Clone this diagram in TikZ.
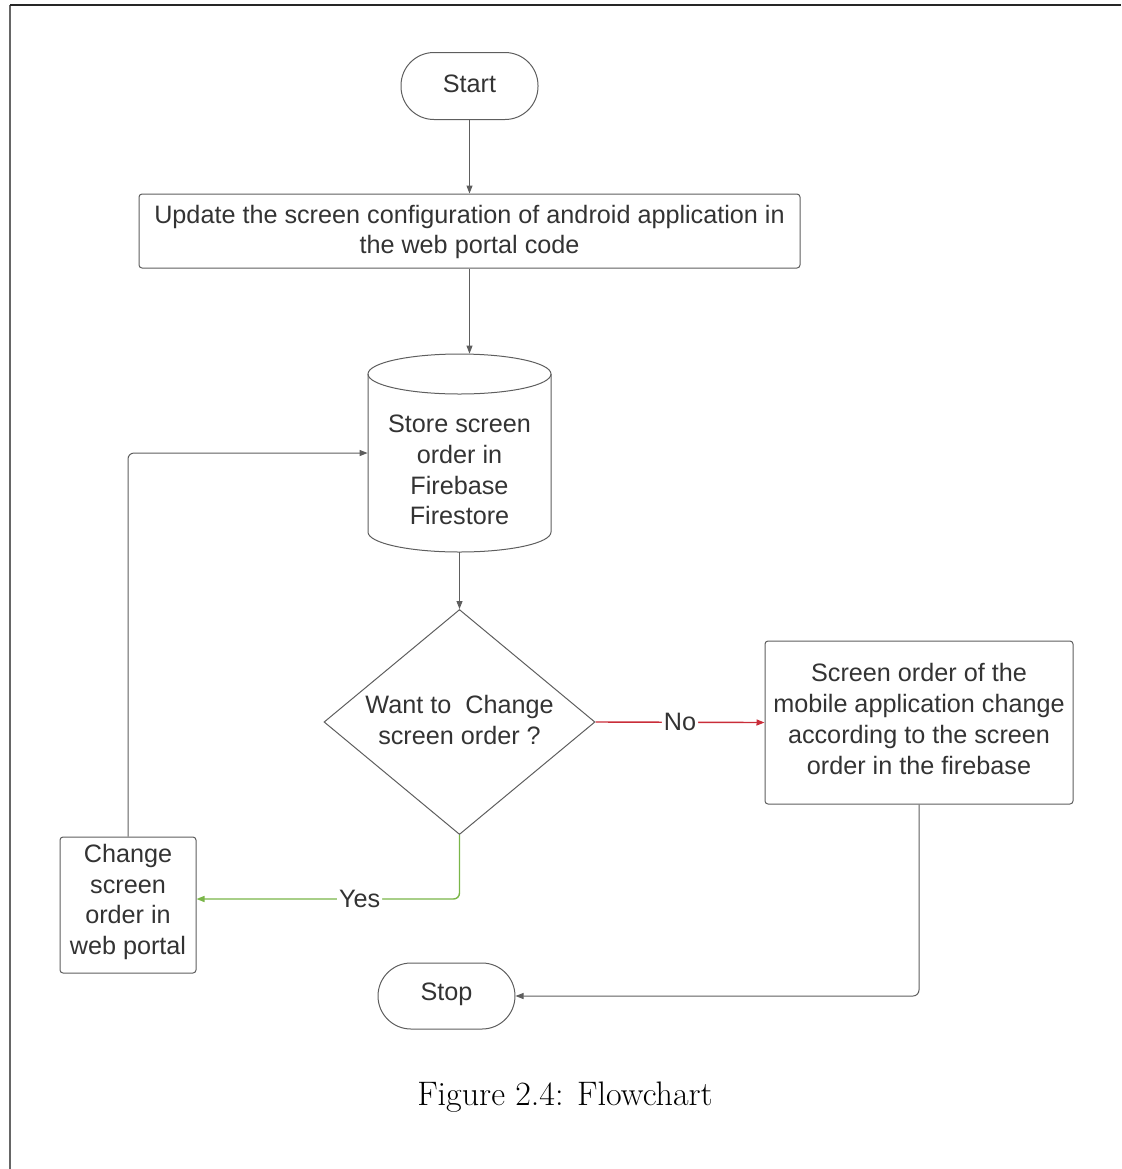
\documentclass[tikz,border=0pt]{standalone}
\usepackage{fontspec}
\newfontfamily\lsans{Liberation Sans}
\usetikzlibrary{arrows.meta,shapes.geometric}
\definecolor{txt}{HTML}{333333}
\definecolor{ln}{HTML}{5E5E5E}
\definecolor{redln}{HTML}{C92D39}
\definecolor{grnln}{HTML}{7AB648}
\begin{document}
\begin{tikzpicture}[x=0.5pt,y=-0.5pt,
  every node/.style={font=\lsans\fontsize{12.6}{15.35}\selectfont, text=txt, align=center, inner sep=0pt},
  box/.style={draw=ln, line width=0.5pt, rounded corners=1.5pt},
  term/.style={draw=ln, line width=0.5pt, rounded corners=16.5pt, minimum width=68.5pt, minimum height=33.5pt},
  conn/.style={draw=ln, line width=0.5pt, -{Triangle[length=4pt,width=3pt]}, rounded corners=3pt},
  lbl/.style={fill=white, inner sep=1pt}
]
\useasboundingbox (0,0) rectangle (1121,1169);
% frame
\draw[line width=1pt, black!60] (10,1169) -- (10,5);
\draw[line width=1pt, black!85] (10,5) -- (1121,5);

\node[term] (start) at (469.5,86) {};
\node (starttext) at (469.5,84) {Start};
\node[box, minimum width=330.5pt, minimum height=37pt] (proc) at (469.5,231) {};
\node (proctext) at (469.5,232)
  {Update the screen configuration of android application in\\the web portal code};

% cylinder
\node[minimum width=91.5pt, minimum height=99pt] (cyl) at (459.5,453) {};
\draw[ln, line width=0.5pt] (459.5,374) ellipse [x radius=45.75pt, y radius=10pt];
\draw[ln, line width=0.5pt] (368,374) -- (368,532)
  arc[start angle=180, end angle=360, x radius=45.75pt, y radius=10pt] -- (551,374);
\node (cyltext) at (459.5,470) {Store screen\\order in\\Firebase\\Firestore};

% decision
\node[diamond, draw=ln, line width=0.5pt, minimum width=135.5pt, minimum height=112.5pt, inner sep=0pt] (dec) at (459.5,722) {};
\node (dectext) at (459.5,720) {Want to\ \ Change\\screen order ?};

\node[box, minimum width=154pt, minimum height=81.5pt] (res) at (919,722.5) {};
\node (restext) at (919,719)
  {Screen order of the\\mobile application change\\according to the screen\\order in the firebase};
\node[term, minimum height=33pt] (stop) at (446.5,996) {};
\node (stoptext) at (446.5,994) {Stop};
\node[box, minimum width=68pt, minimum height=68pt] (chg) at (128,905) {};
\node (chgtext) at (128,902) {Change\\screen\\order in\\web portal};

% connectors
\draw[conn] (start) -- (proc);
\draw[conn] (proc.south) -- (proc.south |- cyl.north);
\draw[conn] (cyl.south) -- (dec.north);
\draw[conn, draw=redln, line width=0.7pt] (dec.east) -- node[lbl]{No} (res.west);
\draw[conn, draw=grnln, line width=0.7pt] (dec.south) |- node[lbl, pos=0.69]{Yes} ([yshift=3pt]chg.east);
\draw[conn] (res.south) |- (stop.east);
\draw[conn] (chg.north) |- (cyl.west);

\node[font=\fontsize{17}{20}\selectfont, text=black] (cap) at (565,1097) {Figure 2.4: Flowchart};
\end{tikzpicture}
\end{document}
